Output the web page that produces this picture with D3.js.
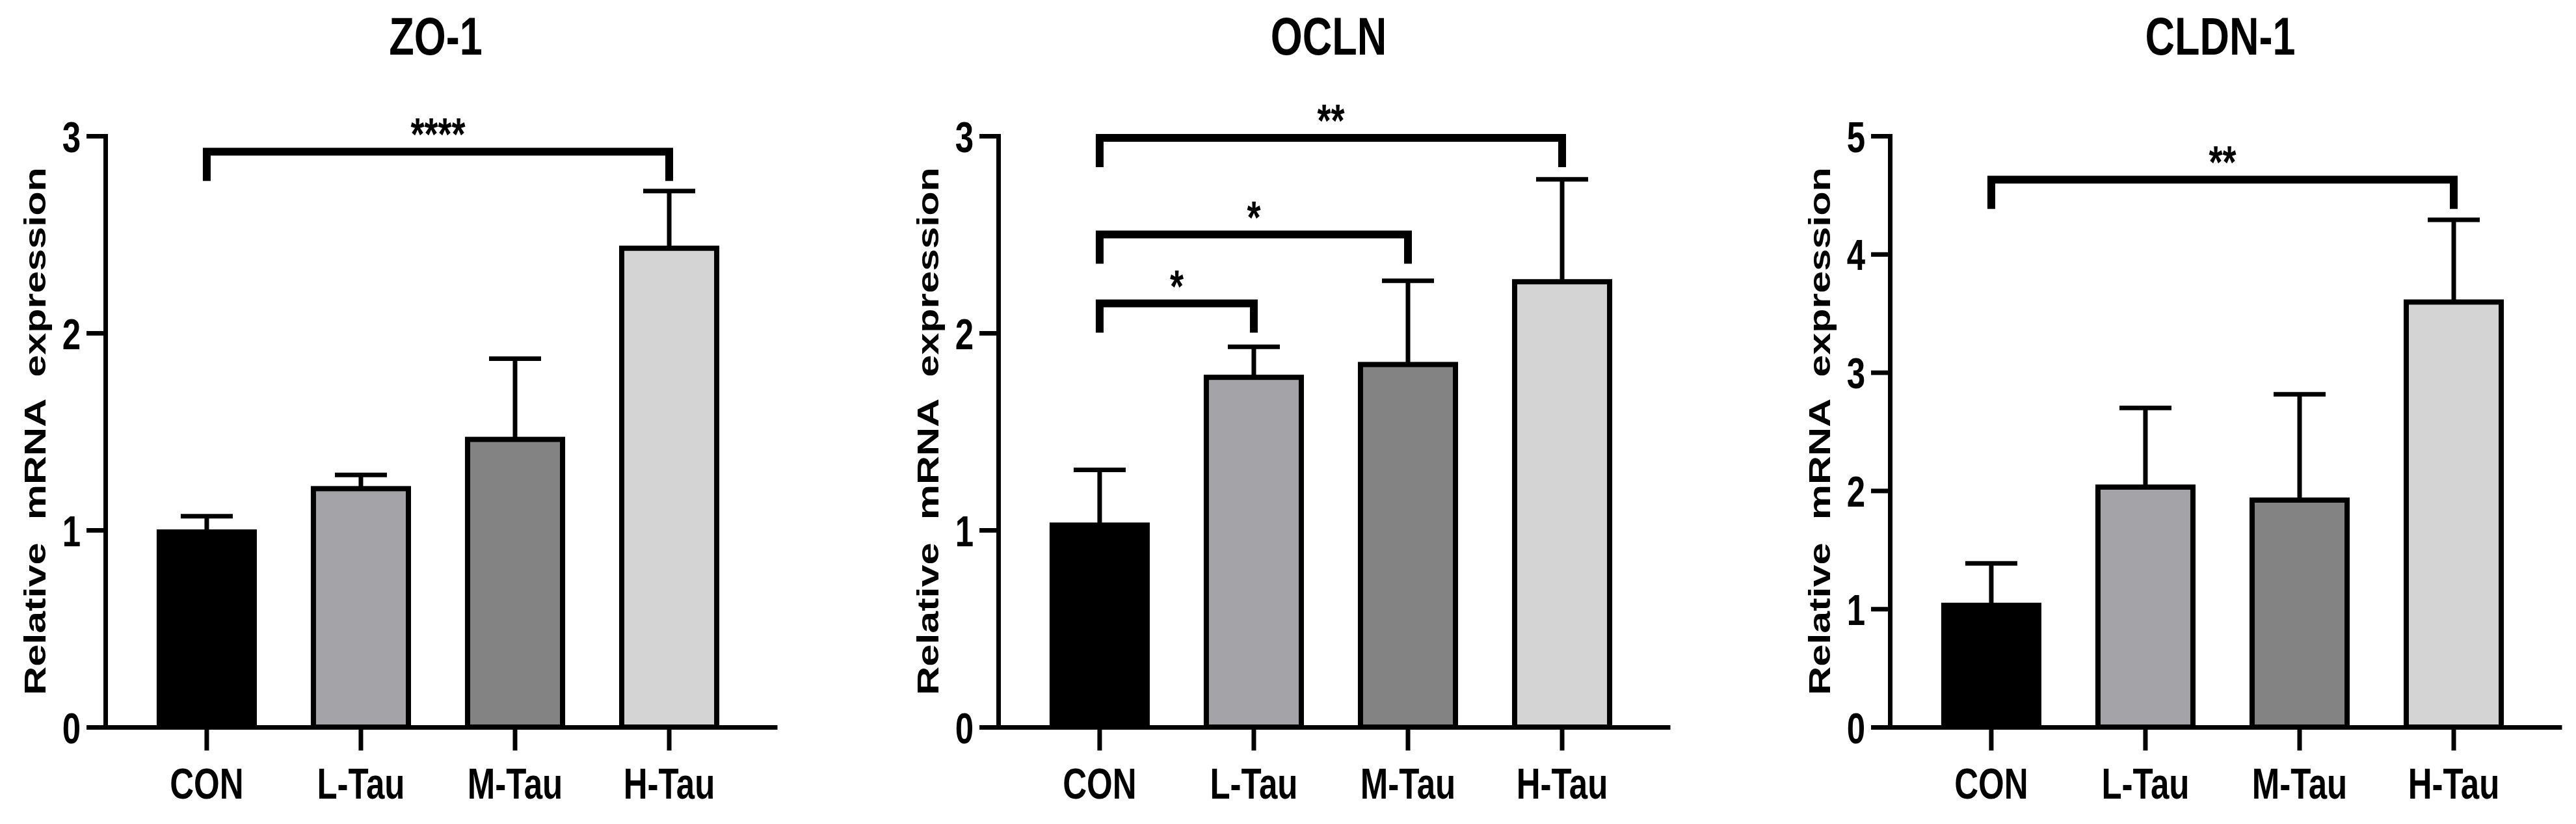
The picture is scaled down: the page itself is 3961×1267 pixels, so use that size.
<!DOCTYPE html>
<html><head><meta charset="utf-8">
<script src="https://cdn.jsdelivr.net/npm/d3@7"></script>
<style>html,body{margin:0;padding:0;background:#fff}svg{display:block}</style>
</head><body>
<script>
// ---------- data ----------
const categories = ["CON", "L-Tau", "M-Tau", "H-Tau"];
const genes = ["ZO-1", "OCLN", "CLDN-1"];
const zo1Mean = [0.99, 1.21, 1.46, 2.43];
const zo1Err = [0.08, 0.07, 0.41, 0.29];
const oclnMean = [1.025, 1.775, 1.84, 2.26];
const oclnErr = [0.28, 0.155, 0.425, 0.52];
const cldn1Mean = [1.03, 2.03, 1.92, 3.595];
const cldn1Err = [0.355, 0.67, 0.895, 0.695];
const yTicks3 = [0, 1, 2, 3];
const yTicks5 = [0, 1, 2, 3, 4, 5];
const zo1Sig = [{a: "CON", b: "H-Tau", v: 2.92, label: "****"}];
const oclnSig = [
  {a: "CON", b: "H-Tau", v: 2.99, label: "**"},
  {a: "CON", b: "M-Tau", v: 2.50, label: "*"},
  {a: "CON", b: "L-Tau", v: 2.15, label: "*"}
];
const cldn1Sig = [{a: "CON", b: "H-Tau", v: 4.63, label: "**"}];
const barColors = ["#000000", "#a4a3a8", "#838383", "#d4d4d4"];
const yLabel = "Relative mRNA expression";

const panels = [
  {title: genes[0], mean: zo1Mean, err: zo1Err, ticks: yTicks3, sig: zo1Sig},
  {title: genes[1], mean: oclnMean, err: oclnErr, ticks: yTicks3, sig: oclnSig},
  {title: genes[2], mean: cldn1Mean, err: cldn1Err, ticks: yTicks5, sig: cldn1Sig}
];

// ---------- layout ----------
const W = 3961, H = 1267;
const panelAx = [162, 1535, 2906];
const Y0 = 1118, YT = 209;
const AXW = 1033;
const VS = 1.3;
const FONT = "'Liberation Sans', Arial, Helvetica, sans-serif";

const svg = d3.select("body").append("svg").attr("width", W).attr("height", H);
svg.append("rect").attr("width", W).attr("height", H).attr("fill", "#fff");

panels.forEach((p, i) => {
  const ax = panelAx[i];
  const g = svg.append("g");
  const x = d3.scaleBand().domain(categories).range([ax, ax + AXW])
    .paddingInner(0.35).paddingOuter(0.354).align(0.47);
  const y = d3.scaleLinear().domain([0, d3.max(p.ticks)]).range([Y0, YT]);
  const bw = x.bandwidth();
  const data = categories.map((c, k) => ({c, m: p.mean[k], e: p.err[k], col: barColors[k]}));

  // bars
  g.selectAll("rect.bar").data(data).join("rect").attr("class", "bar")
    .attr("x", d => x(d.c) + 4).attr("width", bw - 8)
    .attr("y", d => y(d.m)).attr("height", d => Y0 - y(d.m))
    .attr("fill", d => d.col).attr("stroke", "#000").attr("stroke-width", 8);

  // error bars (upper)
  const eb = g.selectAll("g.eb").data(data).join("g").attr("class", "eb");
  eb.append("line")
    .attr("x1", d => x(d.c) + bw / 2).attr("x2", d => x(d.c) + bw / 2)
    .attr("y1", d => y(d.m)).attr("y2", d => y(d.m + d.e))
    .attr("stroke", "#000").attr("stroke-width", 7);
  eb.append("line")
    .attr("x1", d => x(d.c) + bw / 2 - 40).attr("x2", d => x(d.c) + bw / 2 + 40)
    .attr("y1", d => y(d.m + d.e)).attr("y2", d => y(d.m + d.e))
    .attr("stroke", "#000").attr("stroke-width", 7);

  // y axis
  const ya = g.append("g").attr("transform", `translate(${ax},0)`)
    .call(d3.axisLeft(y).tickValues(p.ticks).tickSize(29).tickSizeOuter(0).tickFormat(d3.format("d")));
  ya.select(".domain").attr("stroke", "#000").attr("stroke-width", 7).attr("stroke-linecap", "square");
  ya.selectAll(".tick line").attr("stroke", "#000").attr("stroke-width", 7);
  ya.selectAll(".tick text").attr("x", -38).attr("dy", null).attr("y", 24 / VS)
    .attr("transform", `scale(1,${VS})`)
    .attr("font-family", FONT).attr("font-weight", "bold").attr("font-size", 51).attr("fill", "#000");

  // x axis
  const xa = g.append("g").attr("transform", `translate(0,${Y0})`)
    .call(d3.axisBottom(x).tickSize(36).tickSizeOuter(0));
  xa.select(".domain").attr("stroke", "#000").attr("stroke-width", 7);
  xa.selectAll(".tick line").attr("stroke", "#000").attr("stroke-width", 7);
  xa.selectAll(".tick text").attr("dy", null).attr("y", 110 / VS)
    .attr("transform", `scale(1,${VS})`)
    .attr("font-family", FONT).attr("font-weight", "bold").attr("font-size", 51).attr("fill", "#000");

  // y label
  g.append("text")
    .attr("transform", `translate(${ax - 92},663) scale(1,${VS}) rotate(-90)`)
    .attr("text-anchor", "middle").attr("font-family", FONT).attr("font-weight", "bold")
    .attr("font-size", 47).attr("word-spacing", "14px").attr("fill", "#000")
    .text(yLabel);

  // title
  g.append("text")
    .attr("transform", `translate(${ax + 508},84) scale(1,${VS})`)
    .attr("text-anchor", "middle").attr("font-family", FONT).attr("font-weight", "bold")
    .attr("font-size", 63).attr("fill", "#000")
    .text(p.title);

  // significance brackets
  p.sig.forEach(s => {
    const xa1 = x(s.a) + bw / 2, xb1 = x(s.b) + bw / 2, yl = y(s.v);
    g.append("path")
      .attr("d", `M${xa1},${yl + 45}V${yl}H${xb1}V${yl + 45}`)
      .attr("fill", "none").attr("stroke", "#000").attr("stroke-width", 12)
      .attr("stroke-linejoin", "miter").attr("stroke-linecap", "butt");
    g.append("text")
      .attr("transform", `translate(${(xa1 + xb1) / 2},${yl - 2}) scale(1,${VS})`)
      .attr("text-anchor", "middle").attr("font-family", FONT).attr("font-weight", "bold")
      .attr("font-size", 54).attr("fill", "#000")
      .text(s.label);
  });
});
</script>
</body></html>
